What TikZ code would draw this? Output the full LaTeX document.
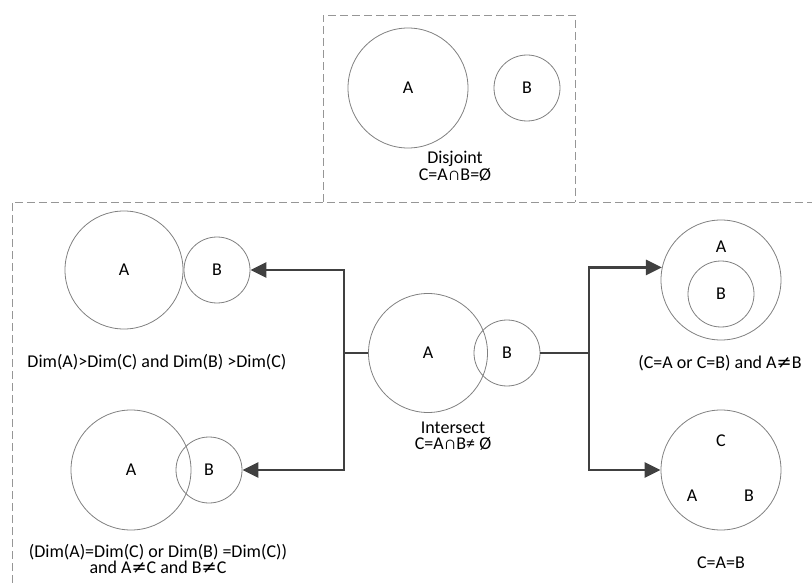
\documentclass[tikz,border=0pt]{standalone}
\usepackage{fontspec}
\setmainfont{Carlito}
\newfontfamily\symfont{DejaVu Sans}
\usetikzlibrary{arrows.meta}
\definecolor{circ}{RGB}{128,128,128}
\definecolor{dash}{RGB}{150,150,150}
\definecolor{arr}{RGB}{64,64,64}
\begin{document}
\begin{tikzpicture}[x=1pt,y=-1pt,
  font=\fontsize{18}{16.5}\selectfont,
  setc/.style={circle,draw=circ,line width=0.8pt,inner sep=0pt,minimum size=#1},
  lbl/.style={inner sep=0pt,align=center},
  frame/.style={draw=dash,line width=0.9pt,dash pattern=on 8pt off 4pt},
  conn/.style={draw=arr,line width=2.6pt},
  arrow/.style={conn,-{Triangle[length=16pt,width=15pt]}}]
\useasboundingbox (0,0) rectangle (812,583);
% frames
\draw[frame] (323,202) -- (323,15) -- (575,15) -- (575,202);
\draw[frame] (12,583) -- (12,202) -- (812,202);
% disjoint
\node[setc=120pt] (dA) at (408,88) {A};
\node[setc=66pt] (dB) at (527,88) {B};
\node[lbl] (dT) at (455,166) {Disjoint\\C=A∩B=Ø};
% intersect centre
\node[setc=119pt] (cA) at (428,353) {A};
\node[setc=66pt] (cB) at (507,353) {B};
\node[lbl] (cT) at (453,436) {Intersect\\C=A∩B≠ Ø};
% left top
\node[setc=118pt] (ltA) at (124,270) {A};
\node[setc=66pt] (ltB) at (217,270) {B};
\node[lbl] (ltT) at (157,362) {Dim(A)>Dim(C) and Dim(B) >Dim(C)};
% left bottom
\node[setc=120pt] (lbA) at (131,470) {A};
\node[setc=66pt] (lbB) at (209,470) {B};
\node[lbl] (lbT) at (158,559) {(Dim(A)=Dim(C) or Dim(B) =Dim(C))\\and A{\symfont≠}C and B{\symfont≠}C};
% right top
\node[setc=120pt] (rtA) at (721,280) {};
\node[lbl] (rtAl) at (721,247) {A};
\node[setc=66pt] (rtB) at (721,294) {B};
\node[lbl] (rtT) at (720,363) {(C=A or C=B) and A{\symfont≠}B};
% right bottom
\node[setc=120pt] (rb) at (721,470) {};
\node[lbl] (rbC) at (721,441) {C};
\node[lbl] (rbA) at (692,496) {A};
\node[lbl] (rbB) at (749,496) {B};
\node[lbl] (rbT) at (721,563) {C=A=B};
% connectors
\coordinate (lj) at (344,353);
\coordinate (rj) at (589,353);
\draw[conn] (cA.west) -- (lj);
\draw[arrow] (lj) |- (ltB.east);
\draw[arrow] (lj) |- (lbB.east);
\draw[conn] (cB.east) -- (rj);
\draw[arrow] (rj) |- (rtA.168);
\draw[arrow] (rj) |- (rb.west);
\end{tikzpicture}
\end{document}
